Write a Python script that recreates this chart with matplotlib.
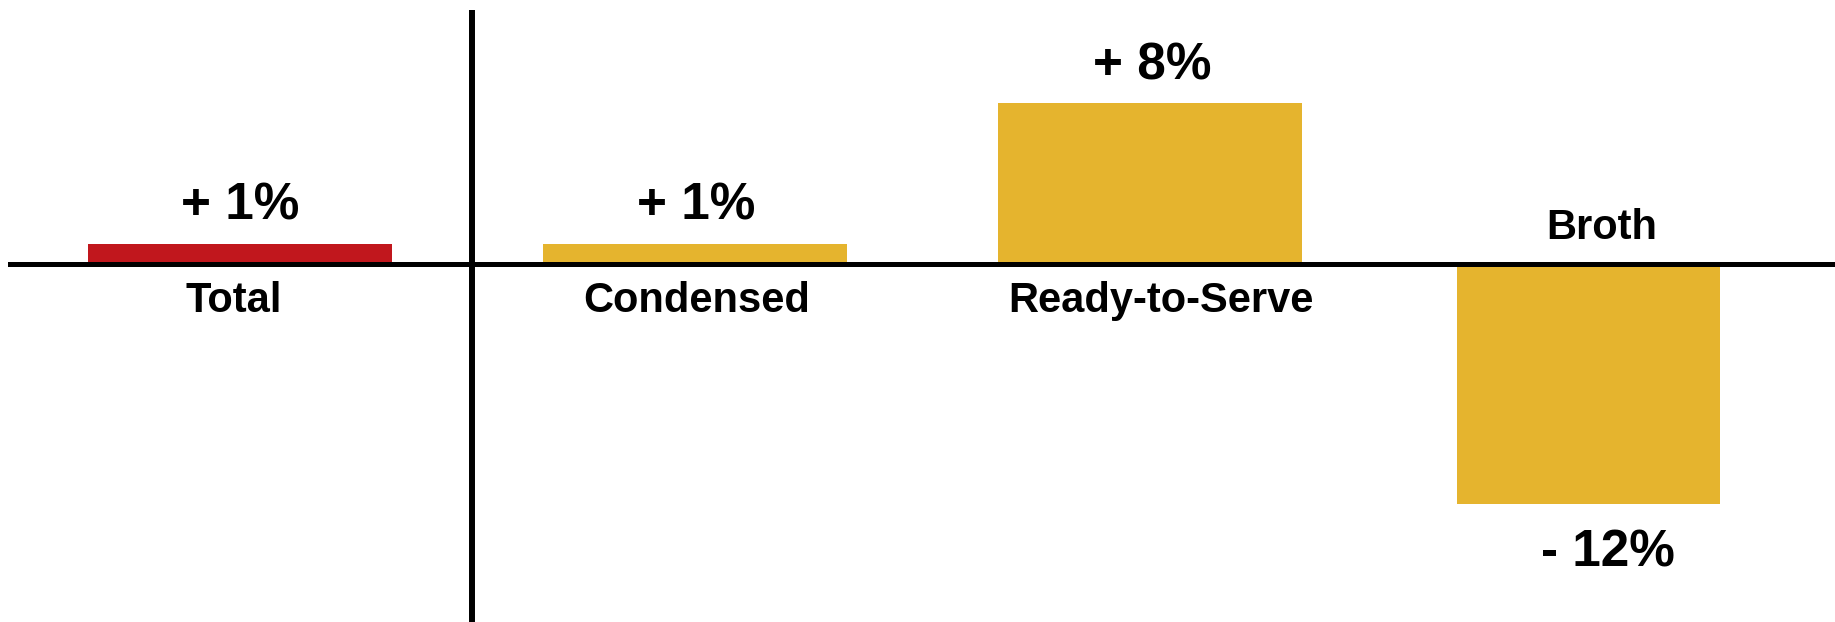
import numpy as np
import matplotlib
matplotlib.use('Agg')
import matplotlib.pyplot as plt

# data
categories = ['Total', 'Condensed', 'Ready-to-Serve', 'Broth']
changes = [1, 1, 8, -12]
value_labels = ['+ 1%', '+ 1%', '+ 8%', '- 12%']

# layout (one x unit = distance between category centres)
x_pos = np.array([0, 1, 2, 2.963])
widths = [0.668, 0.668, 0.668, 0.578]
colors = ['#C1171D', '#E5B42E', '#E5B42E', '#E5B42E']
name_dx = [-0.014, 0.004, 0.024, 0.03]
value_dx = [0.0, 0.002, 0.004, 0.044]

plt.rcParams['font.family'] = ['Liberation Sans', 'DejaVu Sans']

fig = plt.figure(figsize=(18.35, 6.22), dpi=100)
ax = fig.add_axes([0, 0, 1, 1])
ax.set_xlim(-0.5275, 3.5055)
ax.set_ylim(-17.87, 13.14)
ax.axis('off')

ax.bar(x_pos, changes, width=widths, color=colors, zorder=2)

# zero line and the separator after Total
ax.axhline(0, xmin=0.0055, xmax=0.999, color='black', lw=3.6, zorder=3)
ax.plot([0.51, 0.51], [12.64, -17.87], color='black', lw=4.3,
        solid_capstyle='butt', zorder=3)

for i, (name, val, lab) in enumerate(zip(categories, changes, value_labels)):
    x = x_pos[i]
    if val >= 0:
        ax.text(x + value_dx[i], val + 1.2, lab, ha='center', va='baseline',
                fontsize=37, fontweight='bold')
    else:
        ax.text(x + value_dx[i], val - 3.1, lab, ha='center', va='baseline',
                fontsize=37, fontweight='bold')
    # category name sits on the side of the line away from the bar
    if val >= 0:
        ax.text(x + name_dx[i], -2.43, name, ha='center', va='baseline',
                fontsize=30, fontweight='bold')
    else:
        ax.text(x + name_dx[i], 1.22, name, ha='center', va='baseline',
                fontsize=30, fontweight='bold')

fig.savefig('out.png', dpi=100)
